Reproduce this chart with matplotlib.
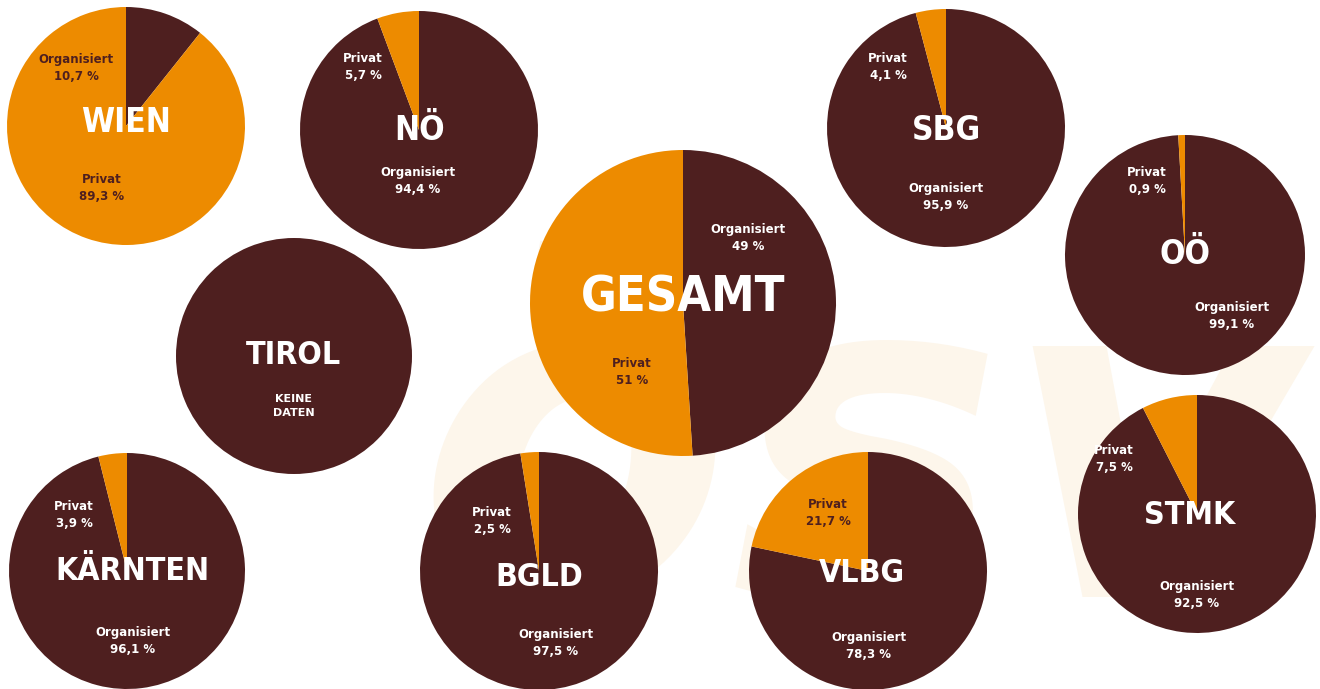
import matplotlib.pyplot as plt
import numpy as np

W, H = 1320, 689
DARK = '#4e1f1f'
ORANGE = '#ed8b00'

regions = ['WIEN', 'NÖ', 'SBG', 'GESAMT', 'OÖ', 'TIROL', 'KÄRNTEN', 'BGLD', 'VLBG', 'STMK']
organisiert = [10.7, 94.4, 95.9, 49, 99.1, None, 96.1, 97.5, 78.3, 92.5]
privat = [89.3, 5.7, 4.1, 51, 0.9, None, 3.9, 2.5, 21.7, 7.5]
no_data_text = 'KEINE\nDATEN'

# layout in pixels (origin top left)
centers = [(126, 126), (419, 130), (946, 128), (683, 303), (1185, 255),
           (294, 356), (127, 571), (539, 571), (868, 571), (1197, 514)]
radii = [119, 119, 119, 153, 120, 118, 118, 119, 119, 119]
title_pos = [(126, 122), (420, 130), (946, 131), (683, 298), (1185, 254),
             (294, 355), (132, 572), (539, 577), (862, 574), (1190, 515)]
title_size = [24, 24, 24, 35, 24, 23, 23, 23, 23, 23]
org_label_pos = [(76, 68), (418, 181), (946, 197), (748, 238), (1232, 316),
                 None, (133, 641), (556, 643), (869, 646), (1197, 595)]
priv_label_pos = [(102, 188), (363, 67), (888, 67), (632, 372), (1147, 181),
                  None, (74, 515), (492, 521), (828, 513), (1114, 459)]

plt.rcParams['font.family'] = ['DejaVu Sans']


def fmt(v):
    s = f'{v:g}' if float(v).is_integer() else f'{v:.1f}'
    return s.replace('.', ',') + ' %'


def label_color(pos, center, org):
    # white on the dark wedge, dark text on the orange wedge
    dx = pos[0] - center[0]
    dy = center[1] - pos[1]
    ang = np.degrees(np.arctan2(dx, dy)) % 360
    return 'white' if ang < org * 3.6 else DARK


fig = plt.figure(figsize=(W / 100, H / 100), dpi=100)
ax = fig.add_axes([0, 0, 1, 1])

# faint watermark in the background
ax.text(860, H - 470, 'ösv', fontsize=330, fontweight='bold', fontstyle='italic',
        color='#fdf6eb', ha='center', va='center', zorder=0, clip_on=True)

for i, name in enumerate(regions):
    cx, cy = centers[i]
    c = (cx, H - cy)
    if organisiert[i] is None:
        ax.pie([1], colors=[DARK], center=c, radius=radii[i],
               wedgeprops=dict(linewidth=0))
        ax.text(294, H - 406, no_data_text, color='white', fontsize=8,
                fontweight='bold', ha='center', va='center', linespacing=1.5)
    else:
        ax.pie([organisiert[i], privat[i]], colors=[DARK, ORANGE], center=c,
               radius=radii[i], startangle=90, counterclock=False,
               wedgeprops=dict(linewidth=0))
        for lab, val, pos in [('Organisiert', organisiert[i], org_label_pos[i]),
                              ('Privat', privat[i], priv_label_pos[i])]:
            ax.text(pos[0], H - pos[1], f'{lab}\n{fmt(val)}',
                    color=label_color(pos, centers[i], organisiert[i]),
                    fontsize=8.5, fontweight='bold', ha='center', va='center',
                    linespacing=1.45)
    tx, ty = title_pos[i]
    ax.text(tx, H - ty, name, color='white', fontsize=title_size[i],
            fontweight='bold', fontstretch='condensed', ha='center', va='center')

ax.set_xlim(0, W)
ax.set_ylim(0, H)
ax.set_aspect('equal')
ax.axis('off')

fig.savefig('out.png', dpi=100, facecolor='white')
